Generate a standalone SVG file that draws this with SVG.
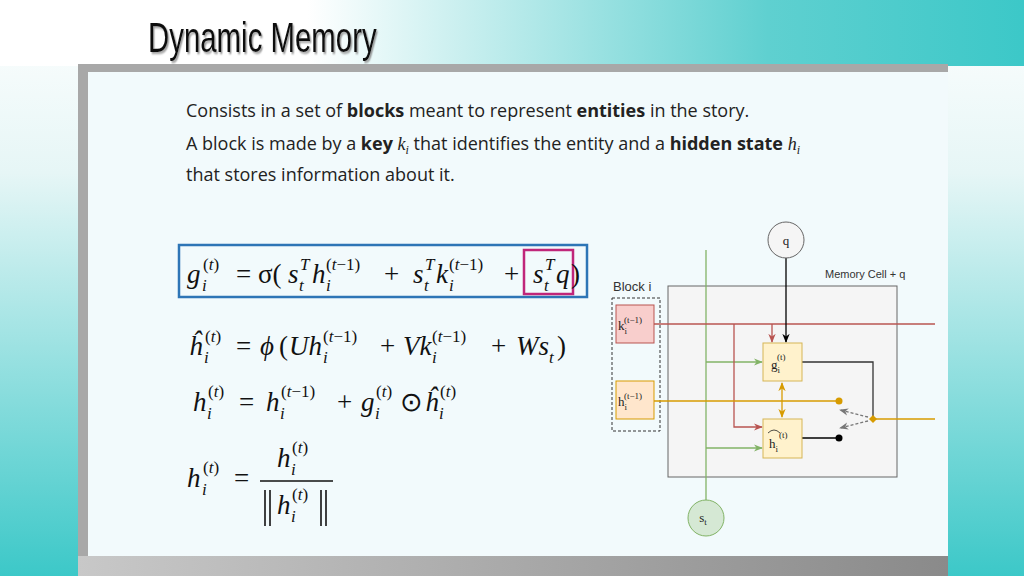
<svg xmlns="http://www.w3.org/2000/svg" width="1024" height="576" viewBox="0 0 1024 576">
<defs>
<linearGradient id="top" x1="0" x2="1" y1="0" y2="0"><stop offset="0" stop-color="#ffffff"/><stop offset="0.3" stop-color="#ffffff"/><stop offset="0.75" stop-color="#5fd0d0"/><stop offset="1" stop-color="#3cc8c8"/></linearGradient>
<linearGradient id="left" x1="0" x2="0" y1="0" y2="1"><stop offset="0" stop-color="#ffffff"/><stop offset="0.3" stop-color="#e6f6f6"/><stop offset="1" stop-color="#3cc8c8"/></linearGradient>
<linearGradient id="bot" x1="0" x2="1"><stop offset="0" stop-color="#c8c8c8"/><stop offset="1" stop-color="#8a8a8a"/></linearGradient>
<filter id="sh" x="-5%" y="-5%" width="110%" height="120%"><feDropShadow dx="2" dy="2" stdDeviation="0.8" flood-color="#888" flood-opacity="0.8"/></filter>
<marker id="arR" viewBox="0 0 10 10" refX="9" refY="5" markerWidth="7" markerHeight="7" orient="auto-start-reverse"><path d="M0,1 L10,5 L0,9 L3,5z" fill="#b85450"/></marker>
<marker id="arG" viewBox="0 0 10 10" refX="9" refY="5" markerWidth="7" markerHeight="7" orient="auto-start-reverse"><path d="M0,1 L10,5 L0,9 L3,5z" fill="#82b366"/></marker>
<marker id="arK" viewBox="0 0 10 10" refX="9" refY="5" markerWidth="7" markerHeight="7" orient="auto-start-reverse"><path d="M0,1 L10,5 L0,9 L3,5z" fill="#000"/></marker>
<marker id="arO" viewBox="0 0 10 10" refX="9" refY="5" markerWidth="7" markerHeight="7" orient="auto-start-reverse"><path d="M0,1 L10,5 L0,9 L3,5z" fill="#d79b00"/></marker>
<marker id="arD" viewBox="0 0 10 10" refX="9" refY="5" markerWidth="7" markerHeight="7" orient="auto-start-reverse"><path d="M0,1 L10,5 L0,9 L3,5z" fill="#777"/></marker>
</defs>
<style>
.body{font-family:"Open Sans",sans-serif;font-size:18px;fill:#222}
.m{font-family:"Liberation Serif",serif;font-size:27px;font-style:italic;fill:#111}
.s{font-family:"Liberation Serif",serif;font-size:17px;font-style:italic;fill:#111}
.u{font-style:normal}
.d{font-family:"Liberation Serif",serif;font-size:13px;fill:#222}
</style>
<rect width="1024" height="576" fill="url(#left)"/>
<rect width="1024" height="66" fill="url(#top)"/>
<rect x="78" y="64" width="870" height="492" fill="#a8a8a8"/>
<rect x="88" y="72" width="860" height="484" fill="#f2fafc"/>
<rect x="78" y="556" width="870" height="20" fill="url(#bot)"/>
<text x="148" y="52" font-family="Liberation Sans,sans-serif" font-size="42" fill="#111" filter="url(#sh)" transform="translate(148,0) scale(0.7,1) translate(-148,0)">Dynamic Memory</text>
<text class="body" x="186" y="117">Consists in a set of <tspan font-weight="bold">blocks</tspan> meant to represent <tspan font-weight="bold">entities</tspan> in the story.</text>
<text class="body" x="186" y="150">A block is made by a <tspan font-weight="bold">key</tspan> <tspan font-family="Liberation Serif" font-style="italic">k<tspan font-size="12" dy="4">i</tspan></tspan><tspan dy="-4"> that identifies the entity and a </tspan><tspan font-weight="bold">hidden state</tspan> <tspan font-family="Liberation Serif" font-style="italic">h<tspan font-size="12" dy="4">i</tspan></tspan></text>
<text class="body" x="186" y="181">that stores information about it.</text>
<g id="equations">
<rect x="179" y="245" width="408" height="52" fill="none" stroke="#2e75b6" stroke-width="2.5"/>
<rect x="524" y="250" width="49" height="44" fill="none" stroke="#c0267a" stroke-width="2.5"/>
<text class="m" x="187" y="283">g</text><text class="s" x="203" y="270"><tspan class="u">(</tspan>t<tspan class="u">)</tspan></text><text class="s" x="202" y="291">i</text>
<text class="m u" x="236" y="283">= σ(</text>
<text class="m" x="288" y="283">s</text><text class="s" x="300" y="270">T</text><text class="s" x="299" y="291">t</text>
<text class="m" x="312" y="283">h</text><text class="s" x="326" y="270"><tspan class="u">(</tspan>t<tspan class="u">−1)</tspan></text><text class="s" x="326" y="291">i</text>
<text class="m u" x="384" y="283">+</text>
<text class="m" x="413" y="283">s</text><text class="s" x="425" y="270">T</text><text class="s" x="424" y="291">t</text>
<text class="m" x="436" y="283">k</text><text class="s" x="449" y="270"><tspan class="u">(</tspan>t<tspan class="u">−1)</tspan></text><text class="s" x="449" y="291">i</text>
<text class="m u" x="504" y="283">+</text>
<text class="m" x="533" y="283">s</text><text class="s" x="545" y="270">T</text><text class="s" x="544" y="291">t</text>
<text class="m" x="556" y="283">q</text><text class="m u" x="571" y="283">)</text>
<text class="m" x="189" y="355">ĥ</text><text class="s" x="205" y="342"><tspan class="u">(</tspan>t<tspan class="u">)</tspan></text><text class="s" x="204" y="363">i</text>
<text class="m u" x="236" y="355">=</text>
<text class="m" x="260" y="355">ϕ</text><text class="m u" x="279" y="355">(</text>
<text class="m" x="289" y="355">Uh</text><text class="s" x="323" y="342"><tspan class="u">(</tspan>t<tspan class="u">−1)</tspan></text><text class="s" x="323" y="363">i</text>
<text class="m u" x="380" y="355">+</text>
<text class="m" x="403" y="355">Vk</text><text class="s" x="432" y="342"><tspan class="u">(</tspan>t<tspan class="u">−1)</tspan></text><text class="s" x="432" y="363">i</text>
<text class="m u" x="491" y="355">+</text>
<text class="m" x="516" y="355">Ws</text><text class="s" x="549" y="363">t</text><text class="m u" x="557" y="355">)</text>
<text class="m" x="193" y="411">h</text><text class="s" x="208" y="397"><tspan class="u">(</tspan>t<tspan class="u">)</tspan></text><text class="s" x="207" y="419">i</text>
<text class="m u" x="239" y="411">=</text>
<text class="m" x="266" y="411">h</text><text class="s" x="281" y="397"><tspan class="u">(</tspan>t<tspan class="u">−1)</tspan></text><text class="s" x="280" y="419">i</text>
<text class="m u" x="337" y="411">+</text>
<text class="m" x="361" y="411">g</text><text class="s" x="376" y="397"><tspan class="u">(</tspan>t<tspan class="u">)</tspan></text><text class="s" x="375" y="419">i</text>
<text class="m u" x="400" y="411">⊙</text>
<text class="m" x="425" y="411">ĥ</text><text class="s" x="440" y="397"><tspan class="u">(</tspan>t<tspan class="u">)</tspan></text><text class="s" x="439" y="419">i</text>
<text class="m" x="187" y="487">h</text><text class="s" x="203" y="473"><tspan class="u">(</tspan>t<tspan class="u">)</tspan></text><text class="s" x="202" y="495">i</text>
<text class="m u" x="234" y="487">=</text>
<text class="m" x="277" y="467">h</text><text class="s" x="292" y="453"><tspan class="u">(</tspan>t<tspan class="u">)</tspan></text><text class="s" x="291" y="475">i</text>
<line x1="260" y1="481" x2="333" y2="481" stroke="#111" stroke-width="1.5"/>
<text class="m" x="277" y="514">h</text><text class="s" x="292" y="500"><tspan class="u">(</tspan>t<tspan class="u">)</tspan></text><text class="s" x="291" y="522">i</text>
<g stroke="#111" stroke-width="1.6"><line x1="265" y1="490" x2="265" y2="526"/><line x1="270" y1="490" x2="270" y2="526"/><line x1="321" y1="490" x2="321" y2="526"/><line x1="326" y1="490" x2="326" y2="526"/></g>
</g>
<g id="memory-cell"><rect x="668" y="286" width="229" height="191" fill="#f5f5f5" stroke="#666"/>
<text x="825" y="278" font-family="Liberation Sans,sans-serif" font-size="11" fill="#333">Memory Cell + q</text></g>
<g id="block-i"><rect x="612" y="298" width="48" height="133" fill="none" stroke="#333" stroke-dasharray="3,2"/>
<text x="613" y="291" font-family="Liberation Sans,sans-serif" font-size="13" fill="#333">Block i</text></g>
<g id="connectors" fill="none" stroke-width="1.3">
<line x1="706" y1="250" x2="706" y2="502" stroke="#82b366"/>
<line x1="706" y1="362" x2="762" y2="362" stroke="#82b366" marker-end="url(#arG)"/>
<line x1="706" y1="448" x2="762" y2="448" stroke="#82b366" marker-end="url(#arG)"/>
<line x1="654" y1="324" x2="935" y2="324" stroke="#b85450"/>
<polyline points="734,324 734,427 762,427" stroke="#b85450" marker-end="url(#arR)"/>
<line x1="772" y1="324" x2="772" y2="342" stroke="#b85450" marker-end="url(#arR)"/>
<line x1="786" y1="258" x2="786" y2="342" stroke="#000" marker-end="url(#arK)"/>
<line x1="654" y1="401" x2="839" y2="401" stroke="#d79b00"/>
<line x1="782" y1="383" x2="782" y2="417" stroke="#d79b00" marker-start="url(#arO)" marker-end="url(#arO)"/>
<polyline points="802,362 873,362 873,419" stroke="#333"/>
<line x1="873" y1="419" x2="935" y2="419" stroke="#d79b00"/>
<line x1="868" y1="417" x2="840" y2="410" stroke="#777" stroke-dasharray="3,2" marker-end="url(#arD)"/>
<line x1="868" y1="421" x2="840" y2="428" stroke="#777" stroke-dasharray="3,2" marker-end="url(#arD)"/>
<line x1="802" y1="438" x2="839" y2="438" stroke="#000"/>
<circle cx="839" cy="401" r="3.5" fill="#d79b00" stroke="none"/>
<circle cx="839" cy="438" r="3.5" fill="#000" stroke="none"/>
<path d="M873,415 L877,419 L873,423 L869,419z" fill="#d79b00" stroke="none"/>
</g>
<g id="q"><circle cx="786" cy="240" r="18" fill="#f5f5f5" stroke="#666"/><text class="d" x="786" y="245" text-anchor="middle" font-size="14">q</text></g>
<g id="st"><circle cx="706" cy="518" r="18" fill="#d5e8d4" stroke="#82b366"/><text class="d" x="703" y="522" text-anchor="middle">s<tspan font-size="9" dy="3">t</tspan></text></g>
<g id="k"><rect x="616" y="305" width="38" height="38" fill="#f8cecc" stroke="#b85450"/><text class="d" x="618" y="330">k<tspan font-size="9" dy="4">i</tspan><tspan font-size="9" dx="-3" dy="-11">(t−1)</tspan></text></g>
<g id="h"><rect x="616" y="381" width="38" height="38" fill="#ffe6cc" stroke="#d79b00"/><text class="d" x="618" y="406">h<tspan font-size="9" dy="4">i</tspan><tspan font-size="9" dx="-3" dy="-11">(t−1)</tspan></text></g>
<g id="g"><rect x="763" y="343" width="39" height="38" fill="#fff2cc" stroke="#d6b656"/><text class="d" x="771" y="369">g<tspan font-size="9" dy="4">i</tspan><tspan font-size="9" dx="-3" dy="-13">(t)</tspan></text></g>
<g id="hhat"><rect x="763" y="419" width="39" height="39" fill="#fff2cc" stroke="#d6b656"/><text class="d" x="769" y="448">h<tspan font-size="9" dy="4">i</tspan><tspan font-size="9" dx="1" dy="-14">(t)</tspan></text><path d="M768,433 Q774,427 780,433" fill="none" stroke="#222" stroke-width="0.8"/></g>
</svg>
